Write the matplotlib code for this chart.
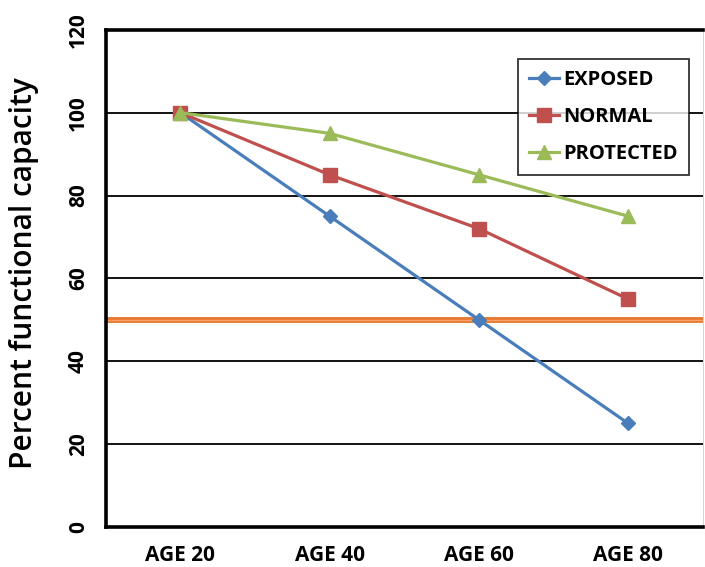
import numpy as np
import matplotlib.pyplot as plt

ages = ["AGE 20", "AGE 40", "AGE 60", "AGE 80"]
exposed = [100, 75, 50, 25]
normal = [100, 85, 72, 55]
protected = [100, 95, 85, 75]
threshold = 50

plt.rcParams['font.family'] = ['Open Sans', 'DejaVu Sans']

fig = plt.figure(figsize=(7.05, 5.67), dpi=100)
ax = fig.add_axes([0.150, 0.0705, 0.847, 0.877])

x = np.arange(len(ages))

for y in range(20, 120, 20):
    ax.axhline(y, color='black', lw=1.3, zorder=1)

# threshold line (orange, lighter core)
ax.axhline(threshold, color='#E8772E', lw=4.2, zorder=2)
ax.axhline(threshold, color='#F5A26A', lw=1.0, zorder=2)

ax.plot(x, exposed, color='#4A7EBB', lw=2.3, marker='D', ms=7.5, label='EXPOSED', zorder=3)
ax.plot(x, normal, color='#C0504D', lw=2.3, marker='s', ms=9.5, label='NORMAL', zorder=3)
ax.plot(x, protected, color='#9BBB59', lw=2.3, marker='^', ms=9.5, label='PROTECTED', zorder=3)

ax.set_xlim(-0.5, 3.5)
ax.set_ylim(0, 120)
ax.set_xticks(x)
ax.set_xticklabels(ages, fontsize=15, fontweight='bold')
ax.set_yticks(range(0, 121, 20))
ax.set_yticklabels([str(v) for v in range(0, 121, 20)], fontsize=15,
                   fontweight='bold', rotation=90, va='center')
ax.tick_params(axis='both', length=0)
ax.tick_params(axis='x', pad=13)
ax.tick_params(axis='y', pad=12)

for s in ['left', 'top', 'bottom']:
    ax.spines[s].set_linewidth(2.6)
    ax.spines[s].set_color('black')
ax.spines['right'].set_linewidth(0.6)
ax.spines['right'].set_color('#cccccc')

ax.set_ylabel('Percent functional capacity', fontsize=21.5, fontweight='semibold')
ax.yaxis.set_label_coords(-0.112, 0.51)

leg = ax.legend(loc='upper right', bbox_to_anchor=(0.976, 0.941),
                prop={'weight': 'bold', 'size': 14.5}, frameon=True, fancybox=False,
                handlelength=1.5, handletextpad=0.2, borderpad=0.55, labelspacing=0.85,
                borderaxespad=0)
leg.get_frame().set_edgecolor('black')
leg.get_frame().set_linewidth(1.3)
leg.set_zorder(5)

fig.savefig('out.png', dpi=100)
